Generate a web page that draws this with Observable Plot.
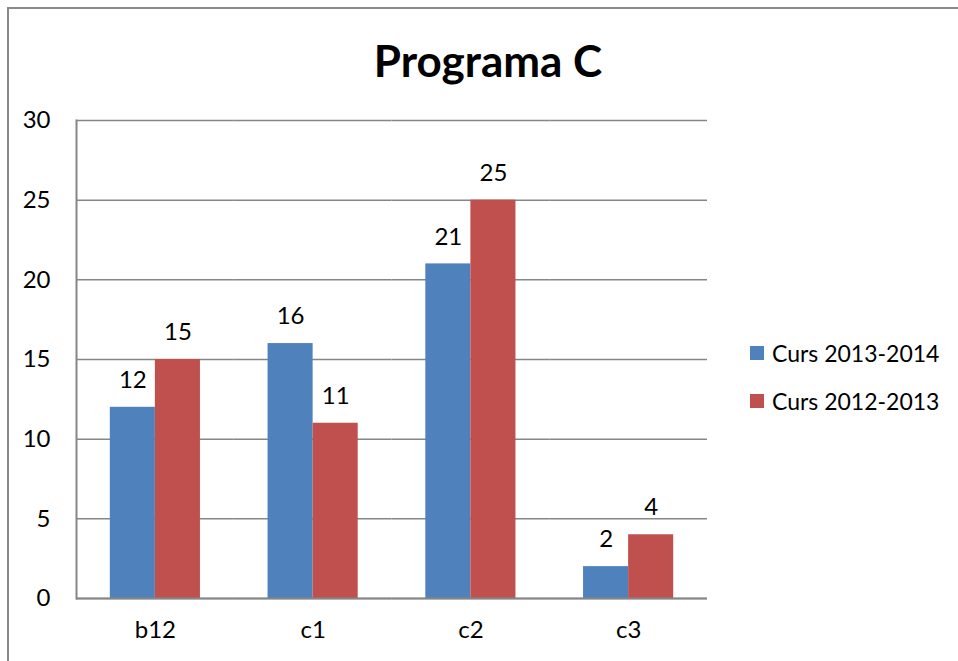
<!DOCTYPE html>
<html>
<head>
<meta charset="utf-8">
<script src="https://cdn.jsdelivr.net/npm/d3@7"></script>
<script src="https://cdn.jsdelivr.net/npm/@observablehq/plot@0.6"></script>
<style>
  body { margin: 0; background: #fff; font-family: Lato, "Noto Sans", sans-serif; }
  #wrap { position: relative; width: 958px; height: 661px; overflow: hidden; background: #fff; }
  #border { position: absolute; left: 7px; top: 7px; width: 2000px; height: 2000px; border-left: 2px solid #8a8a8a; border-top: 2px solid #8a8a8a; }
  #title { position: absolute; left: 0; width: 976px; top: 31px; text-align: center; font-weight: bold; font-size: 44px; color: #000; line-height: 58px; }
  #chart { position: absolute; left: 0; top: 0; }
  #legend { position: absolute; left: 750px; top: 339px; font-size: 23px; color: #000; }
  .item { display: flex; align-items: center; height: 28px; margin-bottom: 20px; }
  .sw { width: 14px; height: 14px; margin-right: 8px; }
</style>
</head>
<body>
<div id="wrap">
  <div id="border"></div>
  <div id="chart"></div>
  <div id="title">Programa C</div>
  <div id="legend"></div>
</div>
<script>
const categories = ["b12", "c1", "c2", "c3"];
const seriesNames = ["Curs 2013-2014", "Curs 2012-2013"];
const curs1314 = [12, 16, 21, 2];
const curs1213 = [15, 11, 25, 4];
const yTicks = [0, 5, 10, 15, 20, 25, 30];
const colors = ["#4F81BD", "#C0504D"];

const data = categories.flatMap((c, i) => [
  {cat: c, series: seriesNames[0], value: curs1314[i]},
  {cat: c, series: seriesNames[1], value: curs1213[i]}
]);

const gray = "#868686";
const chart = Plot.plot({
  width: 958,
  height: 661,
  marginLeft: 76,
  marginRight: 251,
  marginTop: 120,
  marginBottom: 63,
  style: {fontFamily: "Lato, 'Noto Sans', sans-serif", fontSize: "24px", background: "transparent"},
  fx: {domain: categories, padding: 0, label: null, axis: null, round: false},
  x: {domain: seriesNames, paddingInner: 0, paddingOuter: 0.75, axis: null, round: false},
  y: {domain: [0, 30], label: null, axis: null},
  color: {domain: seriesNames, range: colors},
  marks: [
    Plot.gridY(yTicks, {stroke: gray, strokeOpacity: 1, strokeWidth: 1.5}),
    Plot.barY(data, {fx: "cat", x: "series", y: "value", fill: "series"}),
    Plot.text(data, {fx: "cat", x: "series", y: "value", text: "value", dy: -27, fontSize: 24, fill: "#000"}),
    Plot.ruleY([0], {stroke: gray, strokeWidth: 2}),
    Plot.frame({anchor: "left", facetAnchor: "left", stroke: gray, strokeWidth: 2}),
    Plot.axisY(yTicks, {tickSize: 0, tickPadding: 26, fontSize: 24, label: null, fill: "#000"}),
    Plot.axisFx({anchor: "bottom", tickSize: 0, tickPadding: 22, fontSize: 24, label: null, fill: "#000"})
  ]
});
document.getElementById("chart").appendChild(chart);

const legend = document.getElementById("legend");
seriesNames.forEach((s, i) => {
  const item = document.createElement("div");
  item.className = "item";
  item.innerHTML = `<div class="sw" style="background:${colors[i]}"></div><span>${s}</span>`;
  legend.appendChild(item);
});
</script>
</body>
</html>
